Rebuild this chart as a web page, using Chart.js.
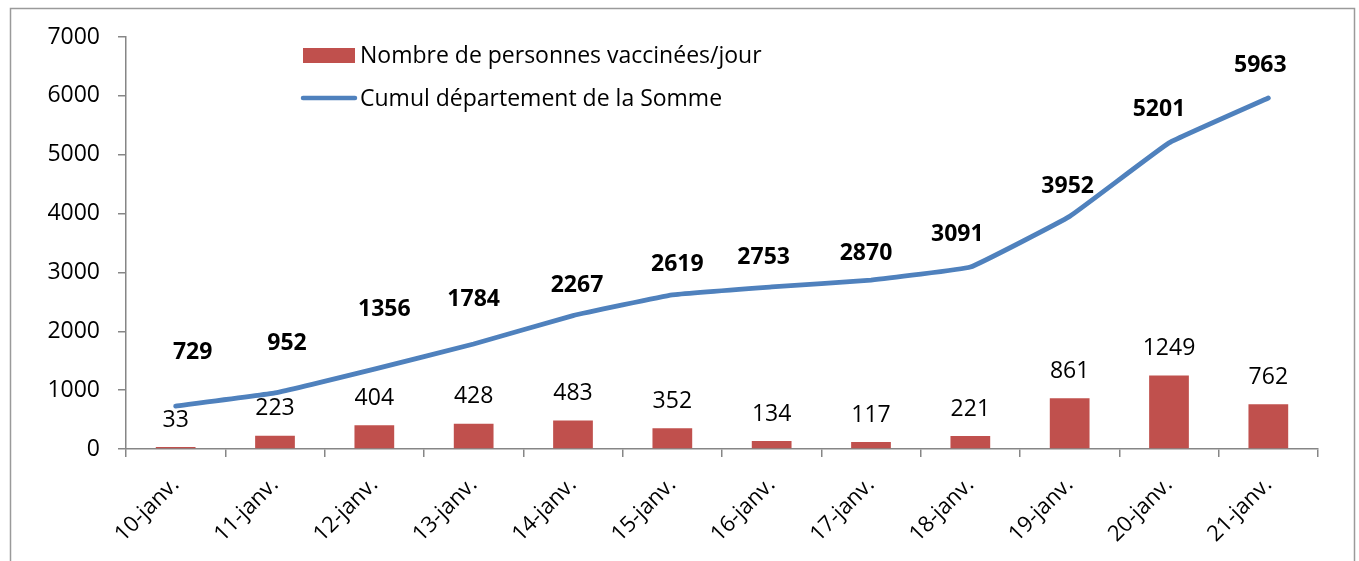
<!DOCTYPE html>
<html>
<head>
<meta charset="utf-8">
<script src="https://cdn.jsdelivr.net/npm/chart.js@4.4.1/dist/chart.umd.min.js"></script>
<style>
  html, body { margin: 0; padding: 0; background: #fff; overflow: hidden; }
  #zone { position: relative; width: 1359px; height: 561px; }
</style>
</head>
<body>
<div id="zone"><canvas id="graf"></canvas></div>
<script>
// donnees
var jours = ['10-janv.', '11-janv.', '12-janv.', '13-janv.', '14-janv.', '15-janv.', '16-janv.', '17-janv.', '18-janv.', '19-janv.', '20-janv.', '21-janv.']
var vaccinesJour = [33, 223, 404, 428, 483, 352, 134, 117, 221, 861, 1249, 762]
var cumulSomme = [729, 952, 1356, 1784, 2267, 2619, 2753, 2870, 3091, 3952, 5201, 5963]
var graduationsY = [0, 1000, 2000, 3000, 4000, 5000, 6000, 7000]

// decalage des etiquettes du cumul (dx, remontee en px) comme sur l'original
var decalX = [17, 12, 10, 0, 4, 5, -8, -5, -13, -2, -10, -8]
var remontee = [54, 50, 60, 45, 30, 30, 30, 27, 33, 30, 33, 33]

var police = "'Open Sans', sans-serif"
var taille = 23
var gris = '#868686'

// cadre gris autour du graphique
const cadre = {
    id: 'cadre',
    beforeDraw(chart) {
        const c = chart.ctx
        c.save()
        c.strokeStyle = '#9a9a9a'
        c.lineWidth = 1.5
        c.strokeRect(10.5, 8.5, 1344, 600)
        c.restore()
    }
}

// legende dessinee dans la zone du graphique
const legende = {
    id: 'legende',
    afterDraw(chart) {
        const c = chart.ctx
        const ds = chart.data.datasets
        c.save()
        c.font = taille + 'px ' + police
        c.textBaseline = 'middle'
        c.textAlign = 'left'
        c.fillStyle = ds[0].backgroundColor
        c.fillRect(303, 48, 52, 15)
        c.fillStyle = '#000'
        c.fillText(ds[0].label, 360, 56)
        c.strokeStyle = ds[1].borderColor
        c.lineWidth = 4.5
        c.lineCap = 'round'
        c.beginPath()
        c.moveTo(303, 98)
        c.lineTo(355, 98)
        c.stroke()
        c.fillText(ds[1].label, 360, 99)
        c.restore()
    }
}

// etiquettes de valeurs
const etiquettes = {
    id: 'etiquettes',
    afterDatasetsDraw(chart) {
        const c = chart.ctx
        c.save()
        c.textAlign = 'center'
        c.textBaseline = 'middle'
        c.fillStyle = '#000'
        // barres
        c.font = taille + 'px ' + police
        chart.getDatasetMeta(0).data.forEach((b, i) => {
            c.fillText(vaccinesJour[i], b.x, b.y - 27)
        })
        // cumul
        c.font = 'bold ' + taille + 'px ' + police
        chart.getDatasetMeta(1).data.forEach((p, i) => {
            c.fillText(cumulSomme[i], p.x + decalX[i], p.y - remontee[i])
        })
        c.restore()
    }
}

var chart = new Chart(document.getElementById('graf'), {
    data: {
        labels: jours,
        datasets: [{
            type: 'bar',
            label: 'Nombre de personnes vaccinées/jour',
            data: vaccinesJour,
            backgroundColor: '#C0504D',
            barPercentage: 0.4,
            categoryPercentage: 1,
            order: 2
        }, {
            type: 'line',
            label: 'Cumul département de la Somme',
            data: cumulSomme,
            borderColor: '#4F81BD',
            backgroundColor: '#4F81BD',
            borderWidth: 4.8,
            borderCapStyle: 'round',
            pointRadius: 0,
            tension: 0.08,
            order: 1
        }]
    },
    options: {
        responsive: true,
        maintainAspectRatio: false,
        animation: false,
        layout: { padding: { top: 37, right: 41, left: 0, bottom: 0 } },
        plugins: {
            legend: { display: false },
            tooltip: { enabled: false }
        },
        scales: {
            x: {
                offset: true,
                grid: {
                    offset: true,
                    drawOnChartArea: false,
                    drawTicks: true,
                    tickLength: 8,
                    color: gris,
                    lineWidth: 1.5
                },
                border: { display: true, color: gris, width: 1.5 },
                ticks: {
                    color: '#000',
                    font: { family: police, size: 22 },
                    maxRotation: 45,
                    minRotation: 45,
                    autoSkip: false,
                    padding: 15
                },
                afterFit: (s) => { s.height = 112 }
            },
            y: {
                min: 0,
                max: 7000,
                afterBuildTicks: (s) => { s.ticks = graduationsY.map(v => ({ value: v })) },
                grid: {
                    drawOnChartArea: false,
                    drawTicks: true,
                    tickLength: 8,
                    color: gris,
                    lineWidth: 1.5
                },
                border: { display: true, color: gris, width: 1.5 },
                ticks: {
                    color: '#000',
                    font: { family: police, size: taille },
                    padding: 18,
                    callback: (v) => String(v)
                },
                afterFit: (s) => { s.width = 126 }
            }
        }
    },
    plugins: [cadre, legende, etiquettes]
});
</script>
</body>
</html>
